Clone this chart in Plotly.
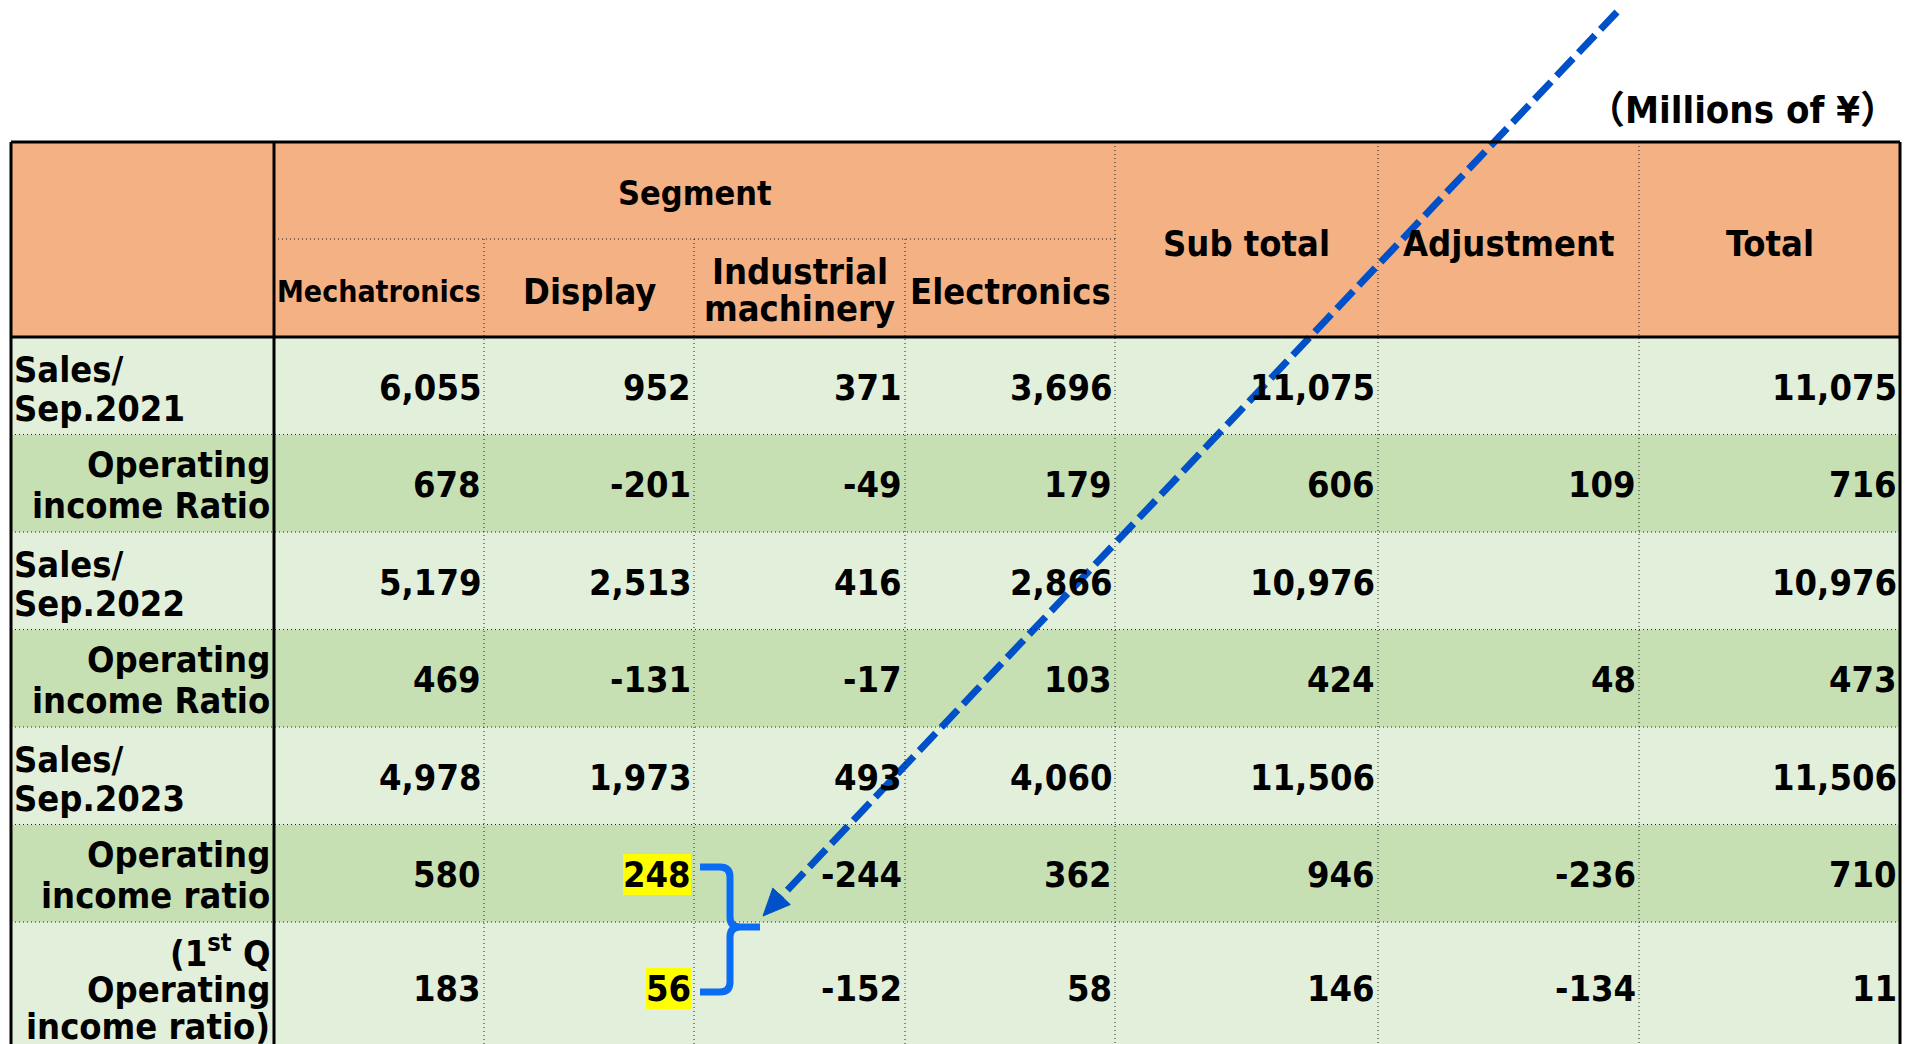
import math
import plotly.graph_objects as go

# ---------------- data ----------------
segment_title = "Segment"
segment_cols = ["Mechatronics", "Display", ["Industrial", "machinery"], "Electronics"]
other_cols = ["Sub total", "Adjustment", "Total"]
unit_label = "（Millions of ¥）"

row_labels = [
    ["Sales/", "Sep.2021"],
    ["Operating", "income Ratio"],
    ["Sales/", "Sep.2022"],
    ["Operating", "income Ratio"],
    ["Sales/", "Sep.2023"],
    ["Operating", "income ratio"],
    ["(1<sup>st</sup> Q", "Operating", "income ratio)"],
]
mechatronics = [6055, 678, 5179, 469, 4978, 580, 183]
display = [952, -201, 2513, -131, 1973, 248, 56]
industrial = [371, -49, 416, -17, 493, -244, -152]
electronics = [3696, 179, 2866, 103, 4060, 362, 58]
sub_total = [11075, 606, 10976, 424, 11506, 946, 146]
adjustment = [None, 109, None, 48, None, -236, -134]
total = [11075, 716, 10976, 473, 11506, 710, 11]
highlighted = [(1, 5), (1, 6)]  # (column index, row index)

columns_values = [mechatronics, display, industrial, electronics, sub_total, adjustment, total]

# ---------------- layout / style ----------------
W, H = 1915, 1044
COL_EDGES = [11, 274, 484, 694, 905, 1115, 1378, 1639, 1900]
TOP, SEG_LINE, HEAD_BOTTOM = 142, 239, 337
ROW_EDGES = [337, 434.5, 532, 629.5, 727, 824.5, 922, 1052]
FONT = "DejaVu Sans Condensed, DejaVu Sans, sans-serif"
FS = 36
HEADER_FILL = "#F4B183"
LIGHT = "#E2EFDA"
DARK = "#C6E0B4"
DOT = "#202020"

fig = go.Figure()
shapes = []
ann = []


def rect(x0, y0, x1, y1, fill):
    shapes.append(dict(type="rect", xref="x", yref="y", x0=x0, y0=y0, x1=x1, y1=y1,
                       fillcolor=fill, line=dict(width=0), layer="below"))


def line(x0, y0, x1, y1, width=1, dash="1px,3px", color=DOT):
    shapes.append(dict(type="line", xref="x", yref="y", x0=x0, y0=y0, x1=x1, y1=y1,
                       line=dict(width=width, dash=dash, color=color), layer="above"))


def text(x, y, s, xanchor="center", size=FS, bg=None, family=FONT):
    d = dict(x=x, y=y, xref="x", yref="y", text=s, showarrow=False, xanchor=xanchor,
             yanchor="middle", font=dict(family=family, size=size, color="black", weight="bold"),
             borderpad=0, borderwidth=0)
    if bg:
        d["bgcolor"] = bg
    ann.append(d)


# fills
rect(COL_EDGES[0], TOP, COL_EDGES[-1], HEAD_BOTTOM, HEADER_FILL)
for r in range(len(row_labels)):
    rect(COL_EDGES[0], ROW_EDGES[r], COL_EDGES[-1], ROW_EDGES[r + 1] + (10 if r == len(row_labels) - 1 else 0),
         LIGHT if r % 2 == 0 else DARK)

# dotted grid
line(COL_EDGES[1], SEG_LINE, COL_EDGES[5], SEG_LINE)
for x in COL_EDGES[2:5]:
    line(x, SEG_LINE, x, H + 20)
for x in COL_EDGES[5:8]:
    line(x, TOP, x, H + 20)
for y in ROW_EDGES[1:-1]:
    line(COL_EDGES[0], y, COL_EDGES[-1], y)

# solid borders
SOLID = dict(width=3, dash="solid", color="black")
line(COL_EDGES[0], TOP, COL_EDGES[-1], TOP, **SOLID)
line(COL_EDGES[0], HEAD_BOTTOM, COL_EDGES[-1], HEAD_BOTTOM, **SOLID)
line(COL_EDGES[0], TOP, COL_EDGES[0], H + 20, **SOLID)
line(COL_EDGES[1], TOP, COL_EDGES[1], H + 20, **SOLID)
line(COL_EDGES[-1], TOP, COL_EDGES[-1], H + 20, **SOLID)

# header texts
text(COL_EDGES[-1] - 2, 110, unit_label, xanchor="right", size=38,
     family="DejaVu Sans Condensed, Noto Sans CJK JP, sans-serif")
text((COL_EDGES[1] + COL_EDGES[5]) / 2, 193, segment_title, size=34)
for i, name in enumerate(segment_cols):
    cx = (COL_EDGES[i + 1] + COL_EDGES[i + 2]) / 2
    if isinstance(name, list):
        text(cx, 271, name[0])
        text(cx, 308, name[1])
    else:
        text(cx, 291, name, size=30 if name == "Mechatronics" else FS)
for i, name in enumerate(other_cols):
    cx = (COL_EDGES[i + 5] + COL_EDGES[i + 6]) / 2
    text(cx, 243, name)

# row labels
for r, lab in enumerate(row_labels):
    top = ROW_EDGES[r]
    if len(lab) == 3:
        offs = [29, 67, 104]
    elif lab[0].startswith("Sales"):
        offs = [32, 71]
    else:
        offs = [30, 71]
    for s, o in zip(lab, offs):
        if lab[0].startswith("Sales"):
            text(COL_EDGES[0] + 3, top + o, s, xanchor="left")
        else:
            text(COL_EDGES[1] - 4, top + o, s, xanchor="right")

# values
for c, vals in enumerate(columns_values):
    xr = COL_EDGES[c + 2] - 3
    for r, v in enumerate(vals):
        if v is None:
            continue
        yc = (ROW_EDGES[r] + ROW_EDGES[r + 1]) / 2 + 1.5
        bg = "#FFFF00" if (c, r) in highlighted else None
        text(xr, yc, f"{v:,}", xanchor="right", bg=bg)

# curly bracket joining the highlighted values
BR = "#0A6CF2"
shapes.append(dict(type="path", xref="x", yref="y", layer="above",
                   path="M 700 867 L 720 867 Q 730 867 730 877 L 730 917 Q 730 927 740 927 L 760 927 "
                        "M 740 927 Q 730 927 730 937 L 730 982 Q 730 992 720 992 L 700 992",
                   line=dict(color=BR, width=7)))

# dashed arrow
AR = "#0050C8"
start = (1617, 12)
tip = (763, 916)
dx, dy = tip[0] - start[0], tip[1] - start[1]
L = math.hypot(dx, dy)
ux, uy = dx / L, dy / L
head_len, head_w = 27, 12
bx, by = tip[0] - ux * head_len, tip[1] - uy * head_len
fig.add_trace(go.Scatter(x=[start[0], bx + ux * 2], y=[start[1], by + uy * 2], mode="lines",
                         line=dict(color=AR, width=7, dash="24px,8px"), hoverinfo="skip",
                         showlegend=False))
nx, ny = -uy, ux
shapes.append(dict(type="path", xref="x", yref="y", layer="above",
                   path=f"M {tip[0]} {tip[1]} L {bx + nx * head_w:.1f} {by + ny * head_w:.1f} "
                        f"L {bx - nx * head_w:.1f} {by - ny * head_w:.1f} Z",
                   fillcolor=AR, line=dict(color=AR, width=1)))

fig.update_layout(
    width=W, height=H, margin=dict(l=0, r=0, t=0, b=0),
    paper_bgcolor="white", plot_bgcolor="white",
    xaxis=dict(range=[0, W], visible=False, fixedrange=True),
    yaxis=dict(range=[H, 0], visible=False, fixedrange=True),
    shapes=shapes, annotations=ann, showlegend=False,
)

fig.write_html("out.html", config={"displayModeBar": False},
               post_script="document.body.style.margin='0';document.body.style.overflow='hidden';")
